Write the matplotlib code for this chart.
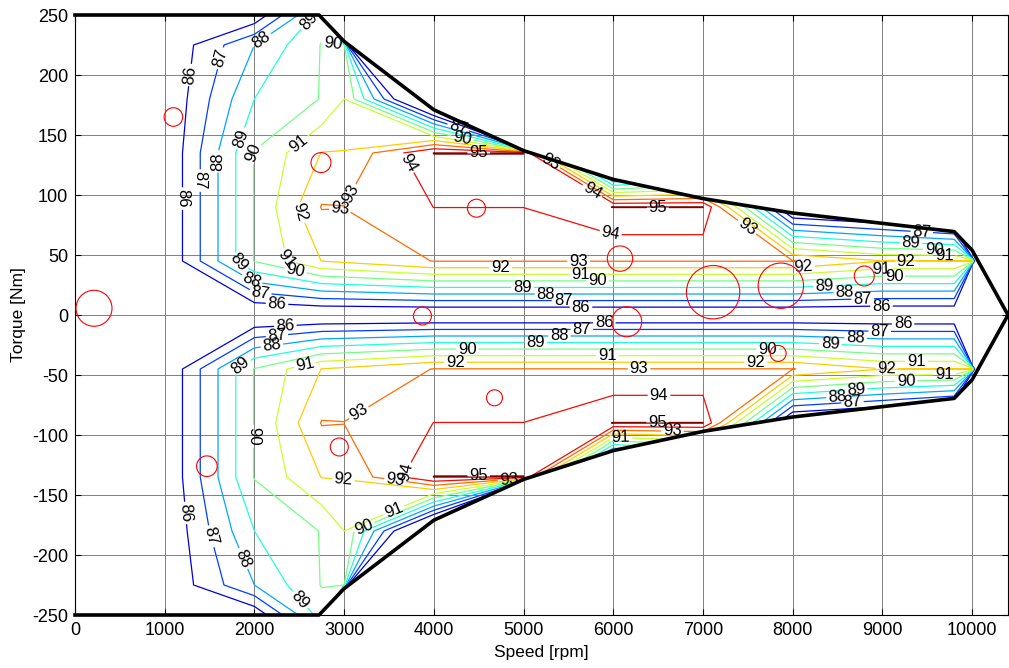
import matplotlib
matplotlib.use("Agg")
import matplotlib.pyplot as plt
import numpy as np
from matplotlib.path import Path
from matplotlib.patches import PathPatch

plt.rcParams["font.family"] = ["Liberation Sans", "DejaVu Sans"]
plt.rcParams["axes.unicode_minus"] = False

# efficiency map grid [%]
speed = [0, 1000, 2000, 2750, 3000, 4000, 5000, 6000, 7000, 8000, 9000, 9800, 10000, 10400]
torque = [-250, -225, -180, -135, -90, -45, 0, 45, 90, 135, 180, 225, 250]
eff = [
    [82, 84.0, 85.2, 89.5, 0, 0, 0, 0, 0, 0, 0, 0, 0, 0],
    [82, 85.05, 88.0, 90.05, 90.02, 0, 0, 0, 0, 0, 0, 0, 0, 0],
    [82, 85.0, 89.0, 90.05, 91.0, 82.0, 0, 0, 0, 0, 0, 0, 0, 0],
    [82, 85.0, 90.05, 92.03, 92.05, 95.02, 95.02, 80.0, 82.3, 0, 0, 0, 0, 0],
    [82, 85.0, 90.05, 93.05, 93.02, 94.01, 94.01, 95.02, 95.02, 84.2, 83.4, 82.0, 0, 0],
    [82, 85.0, 90.05, 92.02, 92.2, 93.03, 93.03, 93.03, 93.03, 93.03, 92.03, 92.03, 92.5, 0],
    [82, 83.0, 84.8, 84.8, 84.8, 84.8, 84.8, 84.8, 84.8, 84.8, 84.8, 84.8, 0, 0],
    [82, 85.0, 90.05, 92.02, 92.2, 93.03, 93.03, 93.03, 93.03, 93.03, 92.03, 92.03, 92.5, 0],
    [82, 85.0, 90.05, 93.05, 93.02, 94.01, 94.01, 95.02, 95.02, 84.2, 83.4, 82.0, 0, 0],
    [82, 85.0, 90.05, 92.03, 92.05, 95.02, 95.02, 80.0, 82.3, 0, 0, 0, 0, 0],
    [82, 85.0, 89.0, 90.05, 91.0, 82.0, 0, 0, 0, 0, 0, 0, 0, 0],
    [82, 85.05, 88.0, 90.05, 90.02, 0, 0, 0, 0, 0, 0, 0, 0, 0],
    [82, 84.0, 85.2, 89.5, 0, 0, 0, 0, 0, 0, 0, 0, 0, 0],
]
levels = [86, 87, 88, 89, 90, 91, 92, 93, 94, 95]

# max torque envelope (positive side)
env_speed = [0, 2720, 3000, 4000, 5000, 6000, 7000, 8000, 9800, 10000, 10400]
env_torque = [250, 250, 228, 171, 137, 113, 97, 85, 69.5, 54, 0]

# operating points (red circles)
op_speed = [1097, 212, 2742, 4475, 6075, 7113, 7868, 8798, 6150, 3873, 7838, 4676, 2946, 1470]
op_torque = [165, 5.6, 127, 89, 47, 19, 24.4, 32.5, -5.6, -0.8, -32, -69, -110, -126]
op_size = [179, 671, 207, 168, 334, 1476, 1067, 207, 466, 168, 132, 132, 168, 220]

# where the contour labels sit
label_pos = [
    (1276, 200), (1618, 214), (2083, 229), (2623, 244), (2865, 222),
    (1860, 147), (1990, 135), (1611, 128), (1376, 112), (1190, 97), (2492, 143),
    (3069, 101), (2492, 85), (2958, 89), (3717, 127), (4319, 147), (4275, 157),
    (4500, 135), (5300, 128), (5770, 104), (6496, 89), (5971, 68), (7478, 72),
    (8121, 40), (9438, 67), (9319, 61), (9580, 56), (9690, 50), (9263, 44),
    (8990, 40), (9130, 31), (8352, 24), (8580, 17.5), (8780, 13), (8990, 7),
    (4743, 39), (5614, 44), (5640, 36), (5830, 27), (4989, 23), (5250, 17.5),
    (5440, 13), (5640, 8), (1823, 44), (1972, 29), (2065, 18), (2251, 8),
    (2381, 47), (2455, 36),
    (2344, -8), (2251, -17), (2195, -25), (1860, -44), (2567, -43), (1990, -101),
    (1228, -165), (1488, -185), (1842, -204), (2511, -237), (2994, -136),
    (3218, -176), (3550, -162), (3144, -79), (3571, -138), (3683, -131),
    (4500, -134), (4836, -137), (4241, -39), (4371, -28), (5134, -24),
    (5400, -19), (5650, -12.5), (5900, -6), (5934, -33), (6287, -44),
    (6510, -67), (6492, -89), (6658, -97), (6083, -103), (7720, -29),
    (7589, -39), (8420, -25), (9230, -6), (8970, -14), (8700, -21), (9380, -39),
    (9050, -44), (9690, -51), (9263, -56), (8705, -62.5), (8501, -69), (8668, -75),
]

fig = plt.figure(figsize=(10.09, 6.68), dpi=100)
ax = fig.add_axes([75 / 1009, 53 / 668, 933 / 1009, 600 / 668])

ax.set_xlim(0, 10400)
ax.set_ylim(-250, 250)
ax.set_xticks(np.arange(0, 10001, 1000))
ax.set_yticks(np.arange(-250, 251, 50))
ax.grid(True, color="0.5", lw=0.7)
ax.set_axisbelow(True)
ax.tick_params(direction="in", top=True, right=True, labelsize=13, length=4, pad=5)
ax.set_xlabel("Speed [rpm]", fontsize=12.5, labelpad=4)
ax.set_ylabel("Torque [Nm]", fontsize=12.5, labelpad=4)

cs = ax.contour(speed, torque, np.array(eff), levels=levels, cmap="jet",
                vmin=85.2, vmax=95, linewidths=0.9)
ax.clabel(cs, fmt="%d", fontsize=12, colors="k", inline=True, inline_spacing=2,
          manual=label_pos)

# clip contours to the envelope
upper = list(zip(env_speed, env_torque))
lower = [(s, -t) for s, t in zip(env_speed[::-1], env_torque[::-1])]
clip = PathPatch(Path(upper + lower[1:] + [upper[0]]), transform=ax.transData,
                 facecolor="none", edgecolor="none")
ax.add_patch(clip)
cs.set_clip_path(clip)

ax.plot(env_speed, env_torque, color="k", lw=2.6, clip_on=False, zorder=5)
ax.plot(env_speed, [-t for t in env_torque], color="k", lw=2.6, clip_on=False, zorder=5)

ax.scatter(op_speed, op_torque, s=op_size, facecolors="none", edgecolors="red",
           linewidths=0.8, zorder=4)

fig.savefig("out.png", dpi=100)
